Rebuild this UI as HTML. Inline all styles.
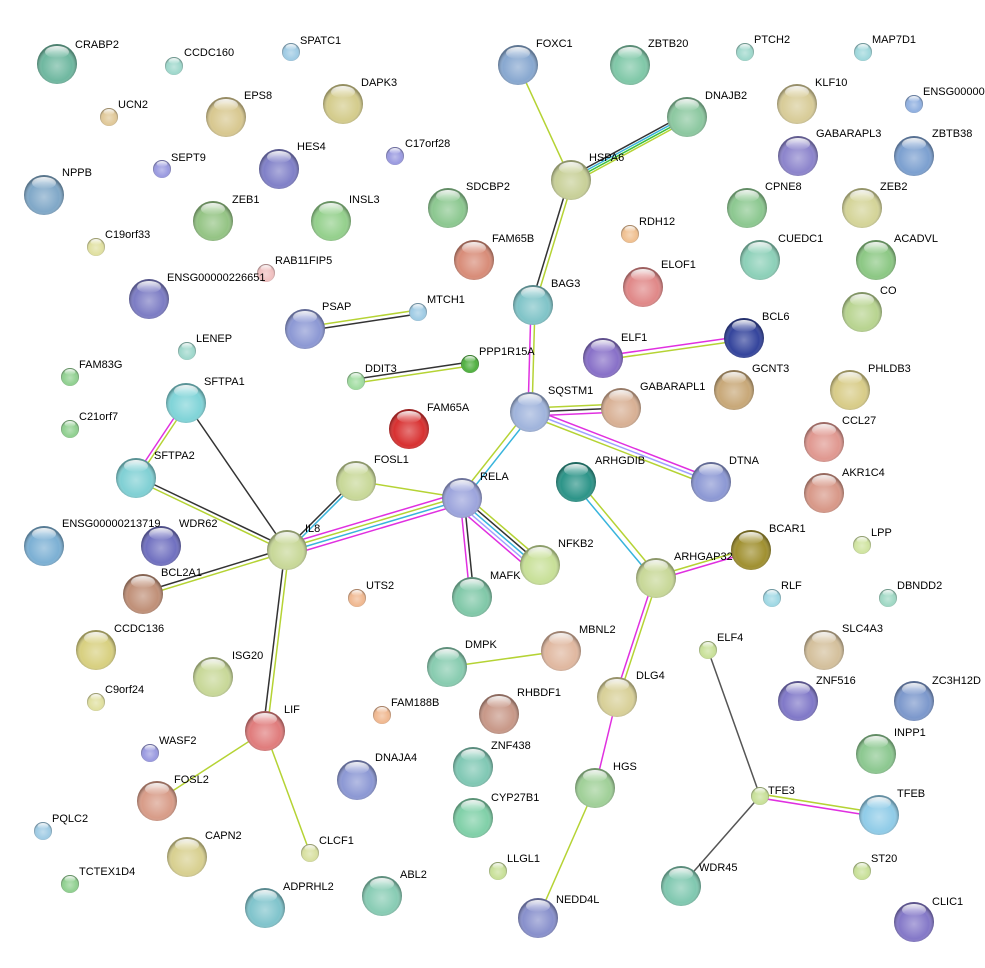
<!DOCTYPE html>
<html><head><meta charset="utf-8"><style>
html,body{margin:0;padding:0;background:#fff}
svg{display:block}
text{font-family:"Liberation Sans",sans-serif;font-size:11px;fill:#000}
</style></head><body>
<svg width="985" height="968" viewBox="0 0 985 968" xmlns="http://www.w3.org/2000/svg">
<defs>
<radialGradient id="sh" cx="50%" cy="55%" r="50%">
<stop offset="0" stop-color="#fff" stop-opacity="0.35"/>
<stop offset="0.75" stop-color="#fff" stop-opacity="0"/>
<stop offset="1" stop-color="#000" stop-opacity="0.3"/>
</radialGradient>
<linearGradient id="hl" x1="0" y1="0" x2="0" y2="1">
<stop offset="0" stop-color="#fff" stop-opacity="0.9"/>
<stop offset="1" stop-color="#fff" stop-opacity="0"/>
</linearGradient>
<g id="b"><circle r="20" fill="url(#sh)"/><ellipse cx="0" cy="-12" rx="12" ry="6" fill="url(#hl)"/></g>
<g id="s"><circle r="9" fill="url(#sh)"/><ellipse cx="0" cy="-5" rx="5.5" ry="3" fill="url(#hl)"/></g>
</defs>
<g fill="none" stroke-width="1.5">
<line x1="518" y1="65" x2="571" y2="180" stroke="#b5d334"/>
<g transform="translate(-1.5,-3)"><line x1="571" y1="180" x2="687" y2="117" stroke="#333"/></g>
<g transform="translate(-0.5,-1)"><line x1="571" y1="180" x2="687" y2="117" stroke="#38b4dc"/></g>
<g transform="translate(0.5,1)"><line x1="571" y1="180" x2="687" y2="117" stroke="#3bbf3b"/></g>
<g transform="translate(1.5,3)"><line x1="571" y1="180" x2="687" y2="117" stroke="#b5d334"/></g>
<line x1="569" y1="180" x2="531" y2="305" stroke="#333"/>
<line x1="573" y1="180" x2="535" y2="305" stroke="#b5d334"/>
<line x1="531" y1="305" x2="528" y2="412" stroke="#e030e0"/>
<line x1="535" y1="305" x2="532" y2="412" stroke="#b5d334"/>
<line x1="305" y1="327" x2="418" y2="310" stroke="#b5d334"/>
<line x1="305" y1="331" x2="418" y2="314" stroke="#333"/>
<line x1="356" y1="379" x2="470" y2="362" stroke="#333"/>
<line x1="356" y1="383" x2="470" y2="366" stroke="#b5d334"/>
<line x1="603" y1="356" x2="744" y2="336" stroke="#e030e0"/>
<line x1="603" y1="360" x2="744" y2="340" stroke="#b5d334"/>
<line x1="530" y1="408" x2="621" y2="404" stroke="#b5d334"/>
<line x1="530" y1="412" x2="621" y2="408" stroke="#333"/>
<line x1="530" y1="416" x2="621" y2="412" stroke="#e030e0"/>
<line x1="530" y1="408" x2="711" y2="478" stroke="#e030e0"/>
<line x1="530" y1="412" x2="711" y2="482" stroke="#a0a0ff"/>
<line x1="530" y1="416" x2="711" y2="486" stroke="#b5d334"/>
<line x1="528" y1="410" x2="460" y2="496" stroke="#b5d334"/>
<line x1="532" y1="414" x2="464" y2="500" stroke="#38b4dc"/>
<line x1="184" y1="403" x2="134" y2="478" stroke="#e030e0"/>
<line x1="188" y1="403" x2="138" y2="478" stroke="#b5d334"/>
<line x1="186" y1="403" x2="287" y2="550" stroke="#333"/>
<line x1="136" y1="476" x2="287" y2="548" stroke="#333"/>
<line x1="136" y1="480" x2="287" y2="552" stroke="#b5d334"/>
<line x1="354" y1="481" x2="285" y2="550" stroke="#333"/>
<line x1="358" y1="481" x2="289" y2="550" stroke="#38b4dc"/>
<line x1="356" y1="481" x2="462" y2="498" stroke="#b5d334"/>
<line x1="287" y1="544" x2="462" y2="492" stroke="#e030e0"/>
<line x1="287" y1="548" x2="462" y2="496" stroke="#b5d334"/>
<line x1="287" y1="552" x2="462" y2="500" stroke="#38b4dc"/>
<line x1="287" y1="556" x2="462" y2="504" stroke="#e030e0"/>
<line x1="287" y1="548" x2="143" y2="592" stroke="#333"/>
<line x1="287" y1="552" x2="143" y2="596" stroke="#b5d334"/>
<line x1="285" y1="550" x2="263" y2="731" stroke="#333"/>
<line x1="289" y1="550" x2="267" y2="731" stroke="#b5d334"/>
<line x1="464" y1="494" x2="542" y2="561" stroke="#b5d334"/>
<line x1="462" y1="497" x2="540" y2="564" stroke="#333"/>
<line x1="460" y1="500" x2="538" y2="567" stroke="#38b4dc"/>
<line x1="458" y1="503" x2="536" y2="570" stroke="#a0a0ff"/>
<line x1="456" y1="506" x2="534" y2="573" stroke="#e030e0"/>
<line x1="460" y1="498" x2="470" y2="597" stroke="#e030e0"/>
<line x1="464" y1="498" x2="474" y2="597" stroke="#333"/>
<line x1="574" y1="484" x2="654" y2="580" stroke="#38b4dc"/>
<line x1="578" y1="480" x2="658" y2="576" stroke="#b5d334"/>
<line x1="656" y1="576" x2="751" y2="548" stroke="#b5d334"/>
<line x1="656" y1="580" x2="751" y2="552" stroke="#e030e0"/>
<line x1="654" y1="578" x2="615" y2="697" stroke="#e030e0"/>
<line x1="658" y1="578" x2="619" y2="697" stroke="#b5d334"/>
<line x1="617" y1="697" x2="595" y2="788" stroke="#e030e0"/>
<line x1="595" y1="788" x2="538" y2="918" stroke="#b5d334"/>
<line x1="447" y1="667" x2="561" y2="651" stroke="#b5d334"/>
<line x1="265" y1="731" x2="157" y2="801" stroke="#b5d334"/>
<line x1="265" y1="731" x2="310" y2="853" stroke="#b5d334"/>
<line x1="708" y1="650" x2="760" y2="796" stroke="#555"/>
<line x1="760" y1="794" x2="879" y2="813" stroke="#b5d334"/>
<line x1="760" y1="798" x2="879" y2="817" stroke="#e030e0"/>
<line x1="760" y1="796" x2="681" y2="886" stroke="#555"/>
</g>
<g stroke-width="0.6">
<circle cx="57" cy="64" r="20" fill="#6fb8a0"/><use href="#b" x="57" y="64"/>
<circle cx="174" cy="66" r="9" fill="#9fd8cc"/><use href="#s" x="174" y="66"/>
<circle cx="291" cy="52" r="9" fill="#9fcbe4"/><use href="#s" x="291" y="52"/>
<circle cx="109" cy="117" r="9" fill="#e0c898"/><use href="#s" x="109" y="117"/>
<circle cx="226" cy="117" r="20" fill="#d8c890"/><use href="#b" x="226" y="117"/>
<circle cx="343" cy="104" r="20" fill="#d4cc8c"/><use href="#b" x="343" y="104"/>
<circle cx="162" cy="169" r="9" fill="#9a9ae0"/><use href="#s" x="162" y="169"/>
<circle cx="279" cy="169" r="20" fill="#8080c8"/><use href="#b" x="279" y="169"/>
<circle cx="395" cy="156" r="9" fill="#9a9ae0"/><use href="#s" x="395" y="156"/>
<circle cx="44" cy="195" r="20" fill="#80a8c8"/><use href="#b" x="44" y="195"/>
<circle cx="213" cy="221" r="20" fill="#94c484"/><use href="#b" x="213" y="221"/>
<circle cx="331" cy="221" r="20" fill="#94d08c"/><use href="#b" x="331" y="221"/>
<circle cx="96" cy="247" r="9" fill="#e0e0a0"/><use href="#s" x="96" y="247"/>
<circle cx="266" cy="273" r="9" fill="#f0c0c0"/><use href="#s" x="266" y="273"/>
<circle cx="149" cy="299" r="20" fill="#7c7cc4"/><use href="#b" x="149" y="299"/>
<circle cx="305" cy="329" r="20" fill="#8c98d4"/><use href="#b" x="305" y="329"/>
<circle cx="418" cy="312" r="9" fill="#9fcbe4"/><use href="#s" x="418" y="312"/>
<circle cx="187" cy="351" r="9" fill="#9fd8cc"/><use href="#s" x="187" y="351"/>
<circle cx="70" cy="377" r="9" fill="#90d090"/><use href="#s" x="70" y="377"/>
<circle cx="356" cy="381" r="9" fill="#a0dca0"/><use href="#s" x="356" y="381"/>
<circle cx="470" cy="364" r="9" fill="#50b040"/><use href="#s" x="470" y="364"/>
<circle cx="186" cy="403" r="20" fill="#80d4d8"/><use href="#b" x="186" y="403"/>
<circle cx="70" cy="429" r="9" fill="#90d090"/><use href="#s" x="70" y="429"/>
<circle cx="409" cy="429" r="20" fill="#d83030"/><use href="#b" x="409" y="429"/>
<circle cx="136" cy="478" r="20" fill="#80d0d4"/><use href="#b" x="136" y="478"/>
<circle cx="356" cy="481" r="20" fill="#c8d898"/><use href="#b" x="356" y="481"/>
<circle cx="462" cy="498" r="20" fill="#9ca4dc"/><use href="#b" x="462" y="498"/>
<circle cx="44" cy="546" r="20" fill="#7cb0d4"/><use href="#b" x="44" y="546"/>
<circle cx="161" cy="546" r="20" fill="#7070c0"/><use href="#b" x="161" y="546"/>
<circle cx="287" cy="550" r="20" fill="#c8d898"/><use href="#b" x="287" y="550"/>
<circle cx="143" cy="594" r="20" fill="#c09078"/><use href="#b" x="143" y="594"/>
<circle cx="357" cy="598" r="9" fill="#f0b890"/><use href="#s" x="357" y="598"/>
<circle cx="96" cy="650" r="20" fill="#d8d080"/><use href="#b" x="96" y="650"/>
<circle cx="213" cy="677" r="20" fill="#c8d898"/><use href="#b" x="213" y="677"/>
<circle cx="96" cy="702" r="9" fill="#e0e0a0"/><use href="#s" x="96" y="702"/>
<circle cx="265" cy="731" r="20" fill="#e07c7c"/><use href="#b" x="265" y="731"/>
<circle cx="382" cy="715" r="9" fill="#f0b890"/><use href="#s" x="382" y="715"/>
<circle cx="150" cy="753" r="9" fill="#9a9ae0"/><use href="#s" x="150" y="753"/>
<circle cx="157" cy="801" r="20" fill="#d89c88"/><use href="#b" x="157" y="801"/>
<circle cx="357" cy="780" r="20" fill="#8c98d4"/><use href="#b" x="357" y="780"/>
<circle cx="43" cy="831" r="9" fill="#9fcbe4"/><use href="#s" x="43" y="831"/>
<circle cx="187" cy="857" r="20" fill="#d8d090"/><use href="#b" x="187" y="857"/>
<circle cx="310" cy="853" r="9" fill="#d8e0a0"/><use href="#s" x="310" y="853"/>
<circle cx="70" cy="884" r="9" fill="#90d090"/><use href="#s" x="70" y="884"/>
<circle cx="265" cy="908" r="20" fill="#80c4cc"/><use href="#b" x="265" y="908"/>
<circle cx="382" cy="896" r="20" fill="#88ccb4"/><use href="#b" x="382" y="896"/>
<circle cx="518" cy="65" r="20" fill="#88a8d0"/><use href="#b" x="518" y="65"/>
<circle cx="630" cy="65" r="20" fill="#80c8a8"/><use href="#b" x="630" y="65"/>
<circle cx="745" cy="52" r="9" fill="#9fd8cc"/><use href="#s" x="745" y="52"/>
<circle cx="863" cy="52" r="9" fill="#9fd8dc"/><use href="#s" x="863" y="52"/>
<circle cx="687" cy="117" r="20" fill="#8cc8a0"/><use href="#b" x="687" y="117"/>
<circle cx="797" cy="104" r="20" fill="#d8cc98"/><use href="#b" x="797" y="104"/>
<circle cx="914" cy="104" r="9" fill="#90b0e0"/><use href="#s" x="914" y="104"/>
<circle cx="571" cy="180" r="20" fill="#c8d098"/><use href="#b" x="571" y="180"/>
<circle cx="798" cy="156" r="20" fill="#8c84cc"/><use href="#b" x="798" y="156"/>
<circle cx="914" cy="156" r="20" fill="#7ca0d0"/><use href="#b" x="914" y="156"/>
<circle cx="448" cy="208" r="20" fill="#8cc890"/><use href="#b" x="448" y="208"/>
<circle cx="747" cy="208" r="20" fill="#8cc890"/><use href="#b" x="747" y="208"/>
<circle cx="862" cy="208" r="20" fill="#d4d498"/><use href="#b" x="862" y="208"/>
<circle cx="630" cy="234" r="9" fill="#f0c090"/><use href="#s" x="630" y="234"/>
<circle cx="474" cy="260" r="20" fill="#d88c78"/><use href="#b" x="474" y="260"/>
<circle cx="760" cy="260" r="20" fill="#8cd0b8"/><use href="#b" x="760" y="260"/>
<circle cx="876" cy="260" r="20" fill="#8cc884"/><use href="#b" x="876" y="260"/>
<circle cx="643" cy="287" r="20" fill="#e08888"/><use href="#b" x="643" y="287"/>
<circle cx="533" cy="305" r="20" fill="#80c4c8"/><use href="#b" x="533" y="305"/>
<circle cx="862" cy="312" r="20" fill="#b8d490"/><use href="#b" x="862" y="312"/>
<circle cx="744" cy="338" r="20" fill="#34449c"/><use href="#b" x="744" y="338"/>
<circle cx="603" cy="358" r="20" fill="#8870c8"/><use href="#b" x="603" y="358"/>
<circle cx="734" cy="390" r="20" fill="#c8a878"/><use href="#b" x="734" y="390"/>
<circle cx="850" cy="390" r="20" fill="#d8cc88"/><use href="#b" x="850" y="390"/>
<circle cx="530" cy="412" r="20" fill="#a0b4dc"/><use href="#b" x="530" y="412"/>
<circle cx="621" cy="408" r="20" fill="#d8b094"/><use href="#b" x="621" y="408"/>
<circle cx="824" cy="442" r="20" fill="#e09890"/><use href="#b" x="824" y="442"/>
<circle cx="576" cy="482" r="20" fill="#2c9488"/><use href="#b" x="576" y="482"/>
<circle cx="711" cy="482" r="20" fill="#8c98d4"/><use href="#b" x="711" y="482"/>
<circle cx="824" cy="493" r="20" fill="#d89888"/><use href="#b" x="824" y="493"/>
<circle cx="540" cy="565" r="20" fill="#c8e098"/><use href="#b" x="540" y="565"/>
<circle cx="751" cy="550" r="20" fill="#a09030"/><use href="#b" x="751" y="550"/>
<circle cx="862" cy="545" r="9" fill="#d0e4a0"/><use href="#s" x="862" y="545"/>
<circle cx="472" cy="597" r="20" fill="#80c8a8"/><use href="#b" x="472" y="597"/>
<circle cx="656" cy="578" r="20" fill="#c8d898"/><use href="#b" x="656" y="578"/>
<circle cx="772" cy="598" r="9" fill="#9fd8e4"/><use href="#s" x="772" y="598"/>
<circle cx="888" cy="598" r="9" fill="#9fd8c4"/><use href="#s" x="888" y="598"/>
<circle cx="561" cy="651" r="20" fill="#e0b8a0"/><use href="#b" x="561" y="651"/>
<circle cx="447" cy="667" r="20" fill="#88ccb0"/><use href="#b" x="447" y="667"/>
<circle cx="708" cy="650" r="9" fill="#c8e098"/><use href="#s" x="708" y="650"/>
<circle cx="824" cy="650" r="20" fill="#d4c09c"/><use href="#b" x="824" y="650"/>
<circle cx="617" cy="697" r="20" fill="#d8d098"/><use href="#b" x="617" y="697"/>
<circle cx="798" cy="701" r="20" fill="#8078c8"/><use href="#b" x="798" y="701"/>
<circle cx="914" cy="701" r="20" fill="#7c98cc"/><use href="#b" x="914" y="701"/>
<circle cx="499" cy="714" r="20" fill="#c89888"/><use href="#b" x="499" y="714"/>
<circle cx="876" cy="754" r="20" fill="#8cc890"/><use href="#b" x="876" y="754"/>
<circle cx="473" cy="767" r="20" fill="#80c8b4"/><use href="#b" x="473" y="767"/>
<circle cx="595" cy="788" r="20" fill="#a0d098"/><use href="#b" x="595" y="788"/>
<circle cx="760" cy="796" r="9" fill="#c8e098"/><use href="#s" x="760" y="796"/>
<circle cx="879" cy="815" r="20" fill="#90cce8"/><use href="#b" x="879" y="815"/>
<circle cx="473" cy="818" r="20" fill="#80d0a8"/><use href="#b" x="473" y="818"/>
<circle cx="498" cy="871" r="9" fill="#c8e098"/><use href="#s" x="498" y="871"/>
<circle cx="862" cy="871" r="9" fill="#c8e098"/><use href="#s" x="862" y="871"/>
<circle cx="681" cy="886" r="20" fill="#80c8b0"/><use href="#b" x="681" y="886"/>
<circle cx="538" cy="918" r="20" fill="#8890cc"/><use href="#b" x="538" y="918"/>
<circle cx="914" cy="922" r="20" fill="#8478c8"/><use href="#b" x="914" y="922"/>
</g>
<g>
<text x="75" y="48">CRABP2</text><text x="184" y="56">CCDC160</text><text x="300" y="44">SPATC1</text>
<text x="118" y="108">UCN2</text><text x="244" y="99">EPS8</text><text x="361" y="86">DAPK3</text>
<text x="171" y="161">SEPT9</text><text x="297" y="150">HES4</text><text x="405" y="147">C17orf28</text>
<text x="62" y="176">NPPB</text><text x="232" y="203">ZEB1</text><text x="349" y="203">INSL3</text>
<text x="105" y="238">C19orf33</text><text x="275" y="264">RAB11FIP5</text><text x="167" y="281">ENSG00000226651</text>
<text x="322" y="310">PSAP</text><text x="427" y="303">MTCH1</text><text x="196" y="342">LENEP</text>
<text x="79" y="368">FAM83G</text><text x="365" y="372">DDIT3</text><text x="479" y="355">PPP1R15A</text>
<text x="204" y="385">SFTPA1</text><text x="79" y="420">C21orf7</text><text x="427" y="411">FAM65A</text>
<text x="154" y="459">SFTPA2</text><text x="374" y="463">FOSL1</text><text x="480" y="480">RELA</text>
<text x="62" y="527">ENSG00000213719</text><text x="179" y="527">WDR62</text><text x="305" y="532">IL8</text>
<text x="161" y="576">BCL2A1</text><text x="366" y="589">UTS2</text><text x="114" y="632">CCDC136</text>
<text x="232" y="659">ISG20</text><text x="105" y="693">C9orf24</text><text x="284" y="713">LIF</text>
<text x="391" y="706">FAM188B</text><text x="159" y="744">WASF2</text><text x="174" y="783">FOSL2</text>
<text x="375" y="761">DNAJA4</text><text x="52" y="822">PQLC2</text><text x="205" y="839">CAPN2</text>
<text x="319" y="844">CLCF1</text><text x="79" y="875">TCTEX1D4</text><text x="283" y="890">ADPRHL2</text>
<text x="400" y="878">ABL2</text><text x="536" y="47">FOXC1</text><text x="648" y="47">ZBTB20</text>
<text x="754" y="43">PTCH2</text><text x="872" y="43">MAP7D1</text><text x="705" y="99">DNAJB2</text>
<text x="815" y="86">KLF10</text><text x="923" y="95">ENSG00000</text><text x="589" y="161">HSPA6</text>
<text x="816" y="137">GABARAPL3</text><text x="932" y="137">ZBTB38</text><text x="466" y="190">SDCBP2</text>
<text x="765" y="190">CPNE8</text><text x="880" y="190">ZEB2</text><text x="639" y="225">RDH12</text>
<text x="492" y="242">FAM65B</text><text x="778" y="242">CUEDC1</text><text x="894" y="242">ACADVL</text>
<text x="661" y="268">ELOF1</text><text x="551" y="287">BAG3</text><text x="880" y="294">CO</text>
<text x="762" y="320">BCL6</text><text x="621" y="341">ELF1</text><text x="752" y="372">GCNT3</text>
<text x="868" y="372">PHLDB3</text><text x="548" y="394">SQSTM1</text><text x="640" y="390">GABARAPL1</text>
<text x="842" y="424">CCL27</text><text x="595" y="464">ARHGDIB</text><text x="729" y="464">DTNA</text>
<text x="842" y="476">AKR1C4</text><text x="558" y="547">NFKB2</text><text x="769" y="532">BCAR1</text>
<text x="871" y="536">LPP</text><text x="490" y="579">MAFK</text><text x="674" y="560">ARHGAP32</text>
<text x="781" y="589">RLF</text><text x="897" y="589">DBNDD2</text><text x="579" y="633">MBNL2</text>
<text x="465" y="648">DMPK</text><text x="717" y="641">ELF4</text><text x="842" y="632">SLC4A3</text>
<text x="636" y="679">DLG4</text><text x="816" y="684">ZNF516</text><text x="932" y="684">ZC3H12D</text>
<text x="517" y="696">RHBDF1</text><text x="894" y="736">INPP1</text><text x="491" y="749">ZNF438</text>
<text x="613" y="770">HGS</text><text x="768" y="794">TFE3</text><text x="897" y="797">TFEB</text>
<text x="491" y="801">CYP27B1</text><text x="507" y="862">LLGL1</text><text x="871" y="862">ST20</text>
<text x="699" y="871">WDR45</text><text x="556" y="903">NEDD4L</text><text x="932" y="905">CLIC1</text>
</g>
</svg>
</body></html>
